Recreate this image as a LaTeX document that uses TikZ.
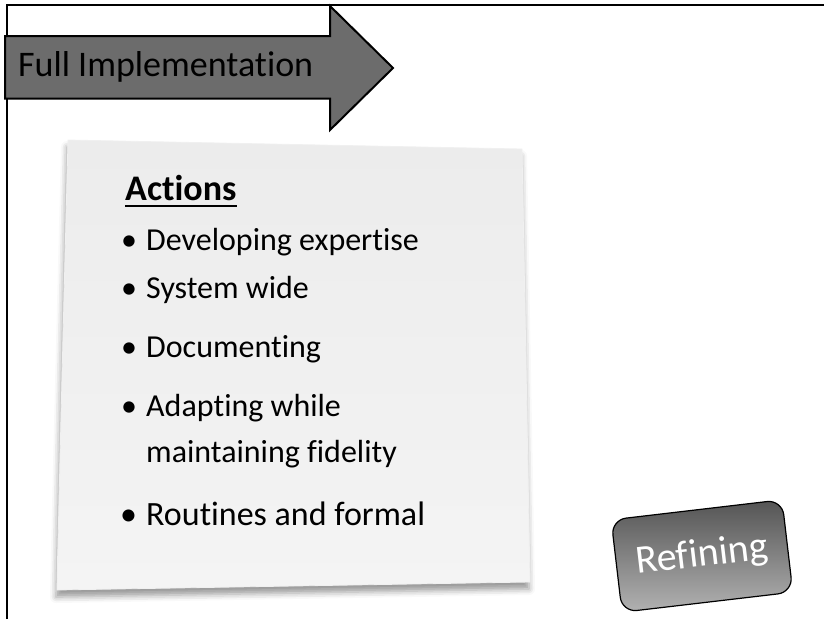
\documentclass[tikz,border=0pt]{standalone}
\usepackage{fontspec}
\setmainfont[Ligatures=NoCommon]{Carlito}
\usetikzlibrary{shadows.blur}

\definecolor{arrowgray}{RGB}{108,108,108}
\definecolor{notetop}{RGB}{236,236,236}
\definecolor{notebottom}{RGB}{244,244,244}
\definecolor{tagtop}{RGB}{84,84,84}
\definecolor{tagbottom}{RGB}{178,178,178}

\begin{document}
\begin{tikzpicture}[x=1pt, y=-1pt,
    frame/.style = {line width=2.6pt},
    stagearrow/.style = {draw, line width=2pt, fill=arrowgray, line join=miter},
    note/.style = {top color=notetop, bottom color=notebottom,
        draw=white!88!gray, line width=0.8pt,
        blur shadow={shadow xshift=-1pt, shadow yshift=-7pt,
        shadow blur radius=6pt, shadow opacity=40}},
    head/.style = {anchor=base west, inner sep=0pt, font=\fontsize{36}{40}\selectfont\bfseries},
    item/.style = {anchor=base west, inner sep=0pt, font=\fontsize{32}{36}\selectfont},
    bul/.style = {anchor=base west, inner sep=0pt, font=\fontsize{32}{36}\selectfont},
    tag/.style = {draw, line width=1.2pt, rounded corners=15pt,
        top color=tagtop, bottom color=tagbottom, text=white,
        minimum width=172pt, minimum height=93pt,
        font=\fontsize{40}{44}\selectfont}
    ]
    \useasboundingbox (0,0) rectangle (824,619);

    % frame
    \draw[frame] (7,619) -- (7,5) -- (824,5);

    % stage arrow
    \draw[stagearrow] (5,36) -- (330,36) -- (330,6) -- (393,68)
        -- (330,130) -- (330,98.7) -- (5,98.7) -- cycle;
    \node[anchor=base west, inner sep=0pt, font=\fontsize{36}{40}\selectfont]
        (stage) at (18,76) {Full Implementation};

    % sticky note
    \path[note] (68,140) -- (522,149) -- (530,582) -- (57,590)
        .. controls (60,450) and (65,260) .. (68,140) -- cycle;

    \node[head] (act) at (125,200) {Actions};
    \draw[line width=2pt] ([yshift=-6pt]act.base west) -- ([yshift=-6pt]act.base east);

    \node[bul] (b1) at (121,250.7) {\textbullet};
    \node[item] (i1) at (146,250.7) {Developing expertise};
    \node[bul] (b2) at (121,298) {\textbullet};
    \node[item] (i2) at (146,298) {System wide};
    \node[bul] (b3) at (121,357.7) {\textbullet};
    \node[item] (i3) at (146,357.7) {Documenting};
    \node[bul] (b4) at (121,416.7) {\textbullet};
    \node[item] (i4) at (146,416.7) {Adapting while};
    \node[item] (i4b) at (146,462) {maintaining fidelity};
    \node[bul, font=\fontsize{34}{38}\selectfont] (b5) at (120,525) {\textbullet};
    \node[item, font=\fontsize{34}{38}\selectfont] (i5) at (146,525) {Routines and formal};

    % phase tag
    \node[tag, rotate=6.7] (refine) at (702,556) {Refining};
\end{tikzpicture}
\end{document}
